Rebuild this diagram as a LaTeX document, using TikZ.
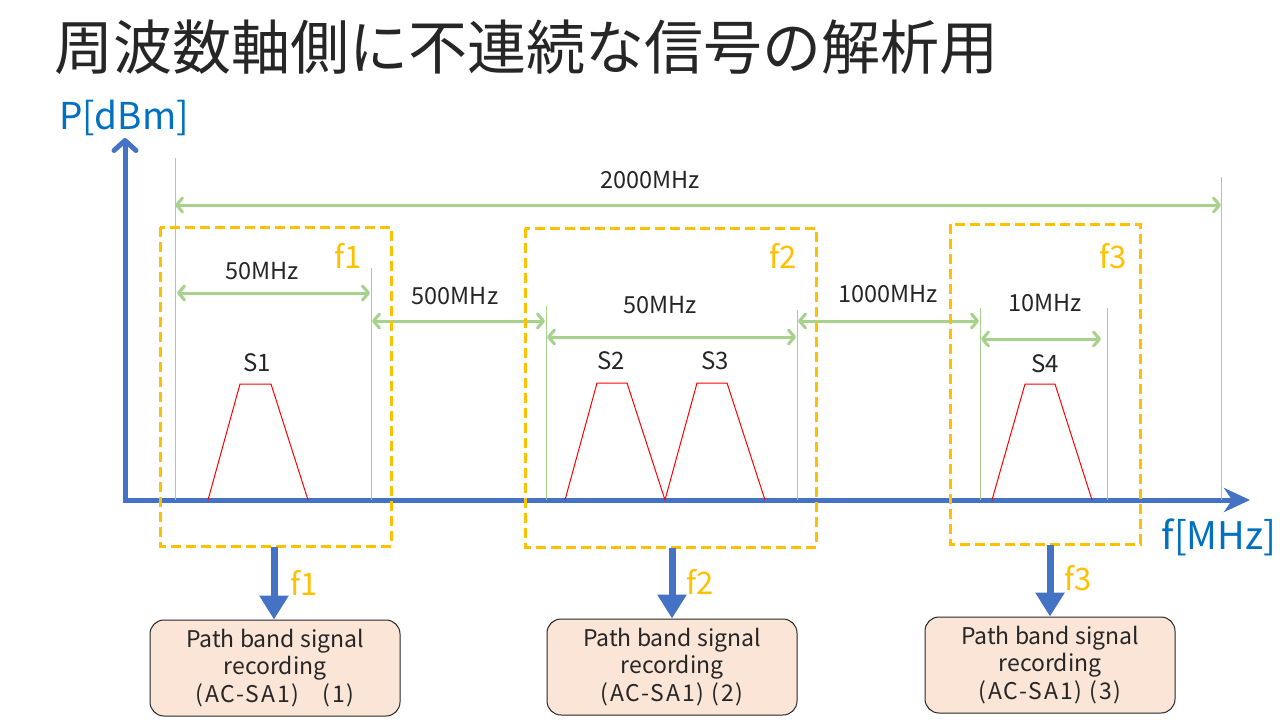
\documentclass[tikz,border=0pt]{standalone}
\usepackage{fontspec}
\setmainfont{Noto Sans CJK JP}
\usetikzlibrary{arrows.meta}
\definecolor{axblue}{HTML}{4472C4}
\definecolor{gr}{HTML}{A9D18E}
\definecolor{yel}{HTML}{FFC000}
\definecolor{lblue}{HTML}{0070C0}
\definecolor{peach}{HTML}{FBE5D6}
\definecolor{txt}{HTML}{262626}
\newcommand{\wideline}[1]{{\addfontfeature{LetterSpace=8}#1}}
\begin{document}
\begin{tikzpicture}[x=1pt,y=-1pt,
  axis/.style={axblue,line width=5pt},
  vline/.style={gr,line width=1pt},
  dim/.style={gr,line width=3pt,{Straight Barb[round,length=6pt,width=14pt]}-{Straight Barb[round,length=6pt,width=14pt]}},
  dimlbl/.style={text=txt,font=\fontsize{23.5}{28}\selectfont,inner sep=0pt},
  fbox/.style={draw=yel,line width=3pt,dash pattern=on 10pt off 5pt},
  flbl/.style={text=yel,font=\fontsize{31}{36}\selectfont,inner sep=0pt},
  sig/.style={red,line width=1pt},
  slbl/.style={text=txt,font=\fontsize{24}{28}\selectfont,inner sep=0pt},
  down/.style={axblue,line width=7pt,-{Triangle[length=24pt,width=28pt]}},
  recbox/.style={draw=txt,fill=peach,line width=1pt,rounded corners=14pt,minimum width=250pt,minimum height=96pt,align=center,text=txt,font=\fontsize{23}{27.5}\selectfont,inner sep=0pt}
]
\useasboundingbox (0,0) rectangle (1280,720);
\fill[white] (0,0) rectangle (1280,720);
% title
\node[anchor=west,inner sep=0pt,text=txt,font=\fontsize{59}{66}\selectfont] (title) at (54,47) {周波数軸側に不連続な信号の解析用};
% axes
\coordinate (O) at (125,500);
\coordinate (ytop) at (125,138);
\coordinate (xend) at (1250,500);
\draw[axis,-{Straight Barb[round,length=10pt,width=22pt]}] (O) -- (ytop);
\draw[axis,-{Stealth[length=26pt,width=24pt,inset=8pt]}] ([xshift=-2.5pt]O) -- (xend);
\node[text=lblue,font=\fontsize{37}{42}\selectfont,inner sep=0pt] (plbl) at (124,118) {P[dBm]};
\node[text=lblue,font=\fontsize{38}{42}\selectfont,inner sep=0pt] (flbl) at (1219,537) {f[MHz]};
% green verticals
\foreach \n/\x/\t in {a/175/158,b/371/268,c/546/306,d/797/310,e/980/308,f/1107/308,g/1221/177}{
  \coordinate (\n top) at (\x,\t);
  \coordinate (\n bot) at (\x,500);
  \draw[vline] (\n top) -- (\n bot);
}
% dimension arrows
\coordinate (d1a) at (175,205); \coordinate (d1b) at (1221,205);
\draw[dim] (d1a) -- (d1b);
\node[dimlbl] (l2000) at (650,180) {2000MHz};
\coordinate (d2a) at (177,293); \coordinate (d2b) at (370,293);
\draw[dim] (d2a) -- (d2b);
\node[dimlbl] (l50a) at (262,271) {50MHz};
\coordinate (d3a) at (372,321); \coordinate (d3b) at (545,321);
\draw[dim] (d3a) -- (d3b);
\node[dimlbl] (l500) at (455,296) {500MHz};
\coordinate (d4a) at (547,337); \coordinate (d4b) at (796,337);
\draw[dim] (d4a) -- (d4b);
\node[dimlbl] (l50b) at (660,305) {50MHz};
\coordinate (d5a) at (798,321); \coordinate (d5b) at (979,321);
\draw[dim] (d5a) -- (d5b);
\node[dimlbl] (l1000) at (888,294) {1000MHz};
\coordinate (d6a) at (981,339); \coordinate (d6b) at (1101,339);
\draw[dim] (d6a) -- (d6b);
\node[dimlbl] (l10) at (1045,303) {10MHz};
% signals
\draw[sig] (208,500) -- (240,384) -- (271,384) -- (308,500);
\draw[sig] (565,500) -- (597,383) -- (627,383) -- (665,500);
\draw[sig] (665,500) -- (697,383) -- (727,383) -- (765,500);
\draw[sig] (992,500) -- (1025,384) -- (1055,384) -- (1092,500);
\node[slbl] (s1) at (257,363) {S1};
\node[slbl] (s2) at (611,361) {S2};
\node[slbl] (s3) at (715,361) {S3};
\node[slbl] (s4) at (1045,364) {S4};
% frequency boxes
\draw[fbox] (160,227) rectangle (391,546);
\draw[fbox] (525,228) rectangle (816,547);
\draw[fbox] (950,224) rectangle (1140,544);
\node[flbl] (f1) at (348,256) {f1};
\node[flbl] (f2) at (783,256) {f2};
\node[flbl] (f3) at (1113,256) {f3};
% record boxes
\node[recbox] (r1) at (275,668) {Path band signal\\recording\\\wideline{(AC-SA1)\quad(1)}};
\node[recbox] (r2) at (672,667) {Path band signal\\recording\\\wideline{(AC-SA1) (2)}};
\node[recbox] (r3) at (1050,665) {Path band signal\\recording\\\wideline{(AC-SA1) (3)}};
% down arrows
\coordinate (b1) at (274,547);
\coordinate (b2) at (672,548);
\coordinate (b3) at (1050,545);
\draw[down] (b1) -- (r1.north -| b1);
\draw[down] (b2) -- (r2.north -| b2);
\draw[down] (b3) -- (r3.north -| b3);
\node[flbl] (g1) at (304,583) {f1};
\node[flbl] (g2) at (700,582) {f2};
\node[flbl] (g3) at (1078,578) {f3};
\end{tikzpicture}
\end{document}
